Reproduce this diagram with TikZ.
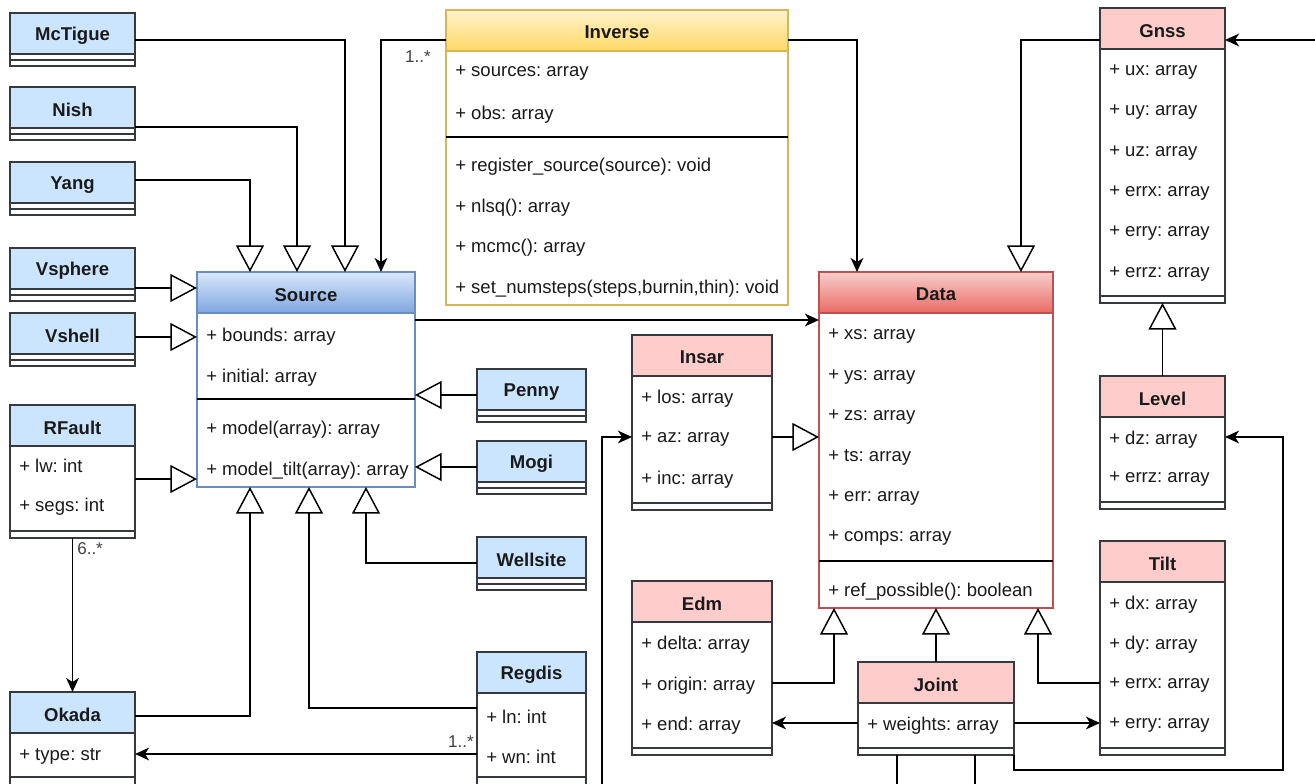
\documentclass[tikz,border=0pt]{standalone}
\usepackage{fontspec}
\setmainfont{Liberation Sans}
\usetikzlibrary{arrows.meta,calc,fit}
\frenchspacing

\definecolor{bluefill}{HTML}{CCE5FF}
\definecolor{pinkfill}{HTML}{FFCCCC}
\definecolor{boxline}{HTML}{36393D}
\definecolor{srcTop}{HTML}{DAE8FC}
\definecolor{srcBot}{HTML}{7EA6E0}
\definecolor{srcLine}{HTML}{6C8EBF}
\definecolor{invTop}{HTML}{FFF2CC}
\definecolor{invBot}{HTML}{FFD966}
\definecolor{invLine}{HTML}{D6B656}
\definecolor{datTop}{HTML}{F8CECC}
\definecolor{datBot}{HTML}{EA6B66}
\definecolor{datLine}{HTML}{B85450}
\definecolor{inktext}{HTML}{1A1A1A}

\tikzset{
  every node/.style={font=\fontsize{13.9}{16}\selectfont, text=inktext},
  rowtext/.style={anchor=west, inner sep=0pt, yshift=-1.8pt},
  titletext/.style={font=\fontsize{13.9}{16}\selectfont\bfseries, inner sep=0pt, yshift=-1.6pt},
  frame/.style={inner sep=0pt, outer sep=0pt, line width=1.1pt},
  sepline/.style={line width=1.1pt, draw=boxline},
  conn/.style={line width=1.1pt, draw=black},
  gen/.style={conn, -{Triangle[length=20pt,width=21pt,fill=white]}},
  assoc/.style={conn, -{Stealth[length=10.5pt,width=9.5pt,inset=3pt]}},
  mult/.style={font=\fontsize{12.8}{14}\selectfont, text=black!75, inner sep=0pt},
  bluehead/.style={fill=bluefill},
  pinkhead/.style={fill=pinkfill},
  srchead/.style={top color=srcTop, bottom color=srcBot},
  invhead/.style={top color=invTop, bottom color=invBot},
  dathead/.style={top color=datTop, bottom color=datBot},
}

% class box: name, x1, y1, x2, y2, header style, border colour, title
\newcommand\umlclass[8]{%
  \fill[white] (#2,#3) rectangle (#4,#5);
  \path[#6] (#2,#3) rectangle (#4,#3+41);
  \node[frame, draw=#7, fit={(#2,#3) (#4,#5)}] (#1) {};
  \draw[line width=1.1pt, draw=#7] (#2,#3+41) -- (#4,#3+41);
  \node[titletext] (#1-title) at ({(#2+#4)/2},#3+20.5) {#8};
}
% class with empty attribute and method sections
\newcommand\emptyclass[5]{%
  \umlclass{#1}{#2}{#3}{#4}{#3+53}{bluehead}{boxline}{#5}
  \draw[sepline] (#2,#3+47) -- (#4,#3+47);
}

\begin{document}
\begin{tikzpicture}[x=0.75pt, y=-0.75pt]
\path[use as bounding box] (0,0) rectangle (1315,784);
\clip (0,0) rectangle (1315,784);

% ---------- source models ----------
\emptyclass{mct}{10}{13}{135}{McTigue}
\emptyclass{nish}{10}{87}{135}{Nish}
\emptyclass{yang}{10}{162}{135}{Yang}
\emptyclass{vsph}{10}{248}{135}{Vsphere}
\emptyclass{vshl}{10}{313}{135}{Vshell}
\emptyclass{penny}{477}{369}{586}{Penny}
\emptyclass{mogi}{477}{441}{586}{Mogi}
\emptyclass{wells}{477}{537}{586}{Wellsite}

\umlclass{rflt}{10}{405}{135}{538}{bluehead}{boxline}{RFault}
\node[rowtext] (rflt-1) at (19,463) {+ lw: int};
\node[rowtext] (rflt-2) at (19,504) {+ segs: int};
\draw[sepline] (10,531) -- (135,531);

\umlclass{okada}{10}{692}{135}{800}{bluehead}{boxline}{Okada}
\node[rowtext] (okada-1) at (19,754) {+ type: str};
\draw[sepline] (10,777) -- (135,777);

\umlclass{regdis}{477}{652}{586}{800}{bluehead}{boxline}{Regdis}
\node[rowtext] (regdis-1) at (486,714) {+ ln: int};
\node[rowtext] (regdis-2) at (486,754) {+ wn: int};
\draw[sepline] (477,777) -- (586,777);

\umlclass{src}{197}{272}{415}{487}{srchead}{srcLine}{Source}
\node[rowtext] (src-1) at (206,334) {+ bounds: array};
\node[rowtext] (src-2) at (206,375) {+ initial: array};
\draw[line width=1.1pt, draw=black] (197,399) -- (415,399);
\node[rowtext] (src-3) at (206,427) {+ model(array): array};
\node[rowtext] (src-4) at (206,468) {+ model\_tilt(array): array};

% ---------- inversion ----------
\umlclass{inv}{446}{10}{788}{305}{invhead}{invLine}{Inverse}
\node[rowtext] (inv-1) at (455,71) {+ sources: array};
\node[rowtext] (inv-2) at (455,112) {+ obs: array};
\draw[line width=1.1pt, draw=black] (446,137) -- (788,137);
\node[rowtext] (inv-3) at (455,164) {+ register\_source(source): void};
\node[rowtext] (inv-4) at (455,205) {+ nlsq(): array};
\node[rowtext] (inv-5) at (455,245) {+ mcmc(): array};
\node[rowtext] (inv-6) at (455,286) {+ set\_numsteps(steps,burnin,thin): void};

% ---------- data ----------
\umlclass{data}{819}{272}{1053}{608}{dathead}{datLine}{Data}
\node[rowtext] (data-1) at (828,334) {+ xs: array};
\node[rowtext] (data-2) at (828,375) {+ ys: array};
\node[rowtext] (data-3) at (828,415) {+ zs: array};
\node[rowtext] (data-4) at (828,455) {+ ts: array};
\node[rowtext] (data-5) at (828,496) {+ err: array};
\node[rowtext] (data-6) at (828,536) {+ comps: array};
\draw[line width=1.1pt, draw=black] (819,561) -- (1053,561);
\node[rowtext] (data-7) at (828,589) {+ ref\_possible(): boolean};

\umlclass{insar}{632}{335}{772}{510}{pinkhead}{boxline}{Insar}
\node[rowtext] (insar-1) at (641,396) {+ los: array};
\node[rowtext] (insar-2) at (641,437) {+ az: array};
\node[rowtext] (insar-3) at (641,477) {+ inc: array};
\draw[sepline] (632,503) -- (772,503);

\umlclass{edm}{632}{581}{772}{755}{pinkhead}{boxline}{Edm}
\node[rowtext] (edm-1) at (641,642) {+ delta: array};
\node[rowtext] (edm-2) at (641,683) {+ origin: array};
\node[rowtext] (edm-3) at (641,723) {+ end: array};
\draw[sepline] (632,748) -- (772,748);

\umlclass{joint}{858}{662}{1014}{755}{pinkhead}{boxline}{Joint}
\node[rowtext] (joint-1) at (867,723) {+ weights: array};
\draw[sepline] (858,748) -- (1014,748);

\umlclass{gnss}{1100}{8}{1225}{303}{pinkhead}{boxline}{Gnss}
\node[rowtext] (gnss-1) at (1109,70) {+ ux: array};
\node[rowtext] (gnss-2) at (1109,110) {+ uy: array};
\node[rowtext] (gnss-3) at (1109,151) {+ uz: array};
\node[rowtext] (gnss-4) at (1109,191) {+ errx: array};
\node[rowtext] (gnss-5) at (1109,231) {+ erry: array};
\node[rowtext] (gnss-6) at (1109,272) {+ errz: array};
\draw[sepline] (1100,296) -- (1225,296);

\umlclass{level}{1100}{376}{1225}{509}{pinkhead}{boxline}{Level}
\node[rowtext] (level-1) at (1109,437) {+ dz: array};
\node[rowtext] (level-2) at (1109,477) {+ errz: array};
\draw[sepline] (1100,502) -- (1225,502);

\umlclass{tilt}{1100}{541}{1225}{755}{pinkhead}{boxline}{Tilt}
\node[rowtext] (tilt-1) at (1109,602) {+ dx: array};
\node[rowtext] (tilt-2) at (1109,642) {+ dy: array};
\node[rowtext] (tilt-3) at (1109,683) {+ errx: array};
\node[rowtext] (tilt-4) at (1109,723) {+ erry: array};
\draw[sepline] (1100,748) -- (1225,748);

% loose ends of connectors that leave the sheet
\coordinate (insar-feed) at (602,800);
\coordinate (gnss-feed) at (1330,40);
\coordinate (joint-out1) at (897,800);
\coordinate (joint-out2) at (975,800);

% ---------- generalisations onto Source ----------
\draw[gen] ($(mct.north east)+(0,27)$) -| ($(src.north west)+(148,0)$);
\draw[gen] ($(nish.north east)+(0,40)$) -| ($(src.north west)+(100,0)$);
\draw[gen] ($(yang.north east)+(0,18)$) -| ($(src.north west)+(53,0)$);
\draw[gen] ($(vsph.north east)+(0,40)$) -- ($(src.north west)+(0,16)$);
\draw[gen] ($(vshl.north east)+(0,24)$) -- ($(src.north west)+(0,65)$);
\draw[gen] ($(rflt.north east)+(0,74)$) -- ($(src.north west)+(0,207)$);
\draw[gen] ($(penny.north west)+(0,26)$) -- ($(src.north east)+(0,123)$);
\draw[gen] ($(mogi.north west)+(0,26)$) -- ($(src.north east)+(0,195)$);
\draw[gen] ($(okada.north east)+(0,24)$) -| ($(src.south west)+(53,0)$);
\draw[gen] ($(regdis.north west)+(0,56)$) -| ($(src.south west)+(112,0)$);
\draw[gen] ($(wells.north west)+(0,26)$) -| ($(src.south west)+(169,0)$);

% ---------- associations around the sources ----------
\draw[assoc] ($(inv.north west)+(0,30)$) -| ($(src.north west)+(184,0)$);
\node[mult, anchor=east] (m-inv) at (431,57) {1..*};
\draw[assoc] (rflt.south) -- (okada.north);
\node[mult, anchor=west] (m-rflt) at (77,549) {6..*};
\draw[assoc] ($(regdis.north west)+(0,102)$) -- ($(okada.north east)+(0,62)$);
\node[mult, anchor=east] (m-regdis) at (474,742) {1..*};

\draw[assoc] ($(inv.north east)+(0,30)$) -| ($(data.north west)+(38,0)$);
\draw[assoc] ($(src.north east)+(0,48)$) -- ($(data.north west)+(0,48)$);

% ---------- data hierarchy ----------
\draw[gen] ($(insar.north east)+(0,102)$) -- ($(data.north west)+(0,165)$);
\draw[gen] ($(gnss.north west)+(0,32)$) -| ($(data.north west)+(202,0)$);
\draw[gen] (level.north) -- (gnss.south);
\draw[gen] ($(edm.north east)+(0,102)$) -| ($(data.south west)+(15,0)$);
\draw[gen] (joint.north) -- ($(data.south west)+(117,0)$);
\draw[gen] ($(tilt.north west)+(0,142)$) -| ($(data.south west)+(219,0)$);

\draw[assoc] (insar-feed) |- ($(insar.north west)+(0,102)$);
\draw[assoc] (gnss-feed) -- ($(gnss.north east)+(0,32)$);
\draw[assoc] ($(joint.north west)+(0,61)$) -- ($(edm.north east)+(0,142)$);
\draw[assoc] ($(joint.north east)+(0,61)$) -- ($(tilt.north west)+(0,182)$);
\draw[assoc] (joint.south east) -- ++(0,15) -- ++(269,0) |- ($(level.north east)+(0,61)$);
\draw[conn] ($(joint.south west)+(39,0)$) -- (joint-out1);
\draw[conn] ($(joint.south west)+(117,0)$) -- (joint-out2);
\end{tikzpicture}
\end{document}
